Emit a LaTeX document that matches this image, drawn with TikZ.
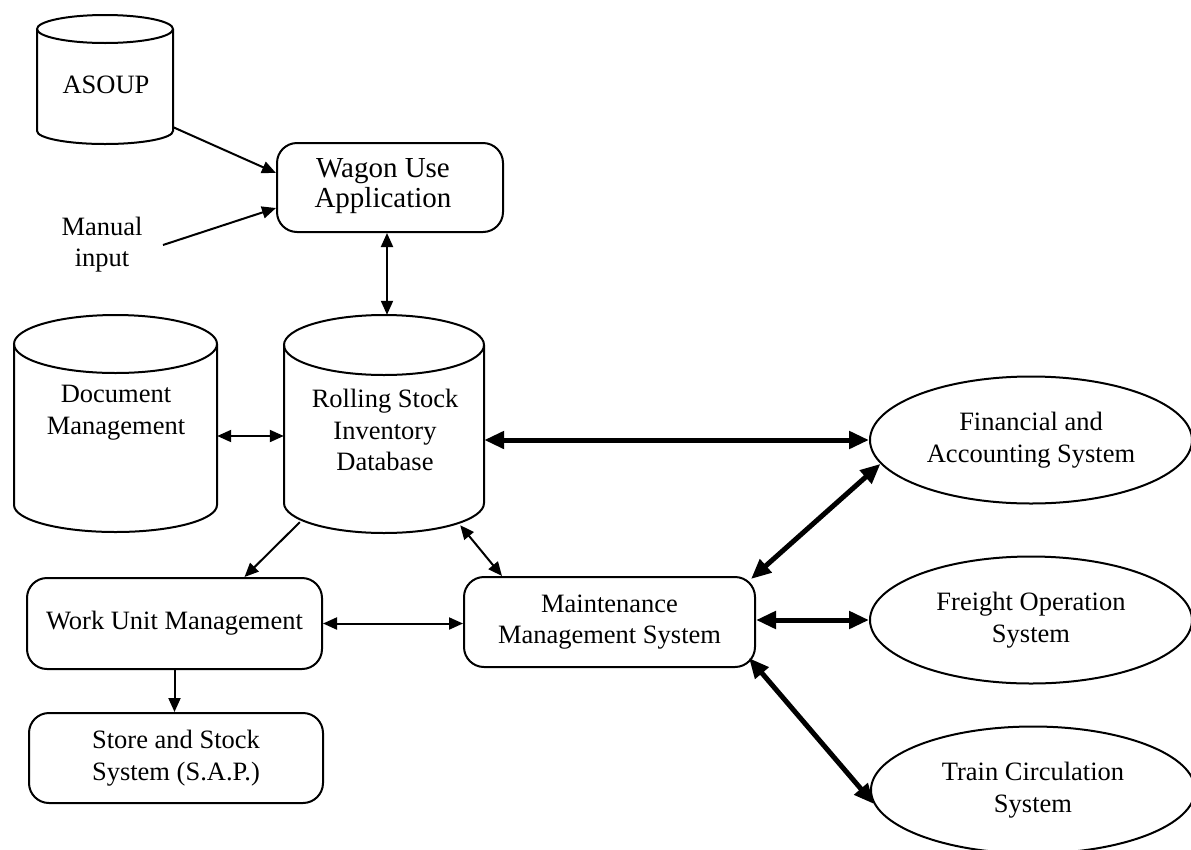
\documentclass[tikz,border=0pt]{standalone}
\usepackage{fontspec}
\setmainfont{Liberation Serif}
\usetikzlibrary{arrows.meta,shapes.geometric}
\begin{document}
\begin{tikzpicture}[x=1pt,y=1pt,
  every node/.style={font=\fontsize{26.5}{31.5}\selectfont, align=center, inner sep=0pt},
  box/.style={rectangle, draw, line width=2pt, rounded corners=20pt},
  body/.style={rectangle, draw=none},
  sys/.style={ellipse, draw, line width=2pt, minimum width=322pt, minimum height=127pt},
  outline/.style={line width=2pt},
  thin/.style={line width=2pt, -{Triangle[length=14pt,width=12pt]}},
  thin both/.style={line width=2pt, {Triangle[length=14pt,width=12pt]}-{Triangle[length=14pt,width=12pt]}},
  heavy both/.style={line width=5pt, {Triangle[length=20pt,width=17pt]}-{Triangle[length=20pt,width=17pt]}}]

\useasboundingbox (0,0) rectangle (1191,-849);

% ---- database cylinders (body areas, labels, outlines) ----
\node[body, minimum width=136pt, minimum height=129pt] (asoup) at (105,-79.5) {};
\node (asoup-text) at (106,-85) {ASOUP};
\draw[outline] (105,-29) ellipse [x radius=68pt, y radius=14pt];
\draw[outline] (37,-29) -- (37,-131) arc[start angle=180, end angle=360, x radius=68pt, y radius=13pt] -- (173,-29);

\node[body, minimum width=203pt, minimum height=217pt] (docm) at (115.5,-423.5) {};
\node (docm-text) at (116,-412.5) {Document\\Management};
\draw[outline] (115.5,-344) ellipse [x radius=101.5pt, y radius=29pt];
\draw[outline] (14,-344) -- (14,-505) arc[start angle=180, end angle=360, x radius=101.5pt, y radius=27pt] -- (217,-344);

\node[body, minimum width=200pt, minimum height=218pt] (rsdb) at (384,-424) {};
\node (rsdb-text) at (385,-430) {Rolling Stock\\Inventory\\Database};
\draw[outline] (384,-345) ellipse [x radius=100pt, y radius=30pt];
\draw[outline] (284,-345) -- (284,-503) arc[start angle=180, end angle=360, x radius=100pt, y radius=30pt] -- (484,-345);

% ---- application boxes ----
\node[box, minimum width=226pt, minimum height=89pt] (wagon) at (390,-187.5) {};
\node[font=\fontsize{29}{30.5}\selectfont] (wagon-text) at (383,-186) {Wagon Use\\Application};
\node[box, minimum width=295pt, minimum height=91pt] (wu) at (174.5,-623.5) {Work Unit Management};
\node[box, minimum width=294pt, minimum height=90pt] (store) at (176,-758) {Store and Stock\\System (S.A.P.)};
\node[box, minimum width=291pt, minimum height=90pt] (mms) at (609.5,-622) {Maintenance\\Management System};

% ---- external systems ----
\node[sys] (fin) at (1031,-440) {Financial and\\Accounting System};
\node[sys] (frt) at (1031,-620) {Freight Operation\\System};
\node[sys, minimum width=324pt] (trn) at (1033,-790) {Train Circulation\\System};

% ---- manual input ----
\node (manual) at (102,-244.5) {Manual\\input};
\coordinate (minput) at (163,-245);

% ---- connectors ----
\draw[thin] ([yshift=17pt]asoup.south east) -- ([yshift=14.5pt]wagon.west);
\draw[thin] (minput) -- ([yshift=-20.5pt]wagon.west);
\draw[thin both] ([xshift=-3pt]wagon.south) -- ([xshift=3pt]rsdb.north);
\draw[thin both] ([yshift=-12.5pt]docm.east) -- ([yshift=-12pt]rsdb.west);
\draw[heavy both] ([yshift=-16pt]rsdb.east) -- (fin.west);
\draw[thin] ([shift={(16pt,11pt)}]rsdb.south west) -- ([xshift=70pt]wu.north);
\draw[thin both] ([shift={(-24pt,8pt)}]rsdb.south east) -- ([xshift=39pt]mms.north west);
\draw[thin both] (wu.east) -- (wu.east -| mms.west);
\draw[thin] (wu.south) -- (wu.south |- store.north);
\draw[heavy both] ([shift={(-5pt,-3pt)}]mms.north east) -- (fin.189);
\draw[heavy both] (frt.west -| mms.east) -- (frt.west);
\draw[heavy both] ([shift={(-7pt,10pt)}]mms.south east) -- (trn.185);
\end{tikzpicture}
\end{document}
